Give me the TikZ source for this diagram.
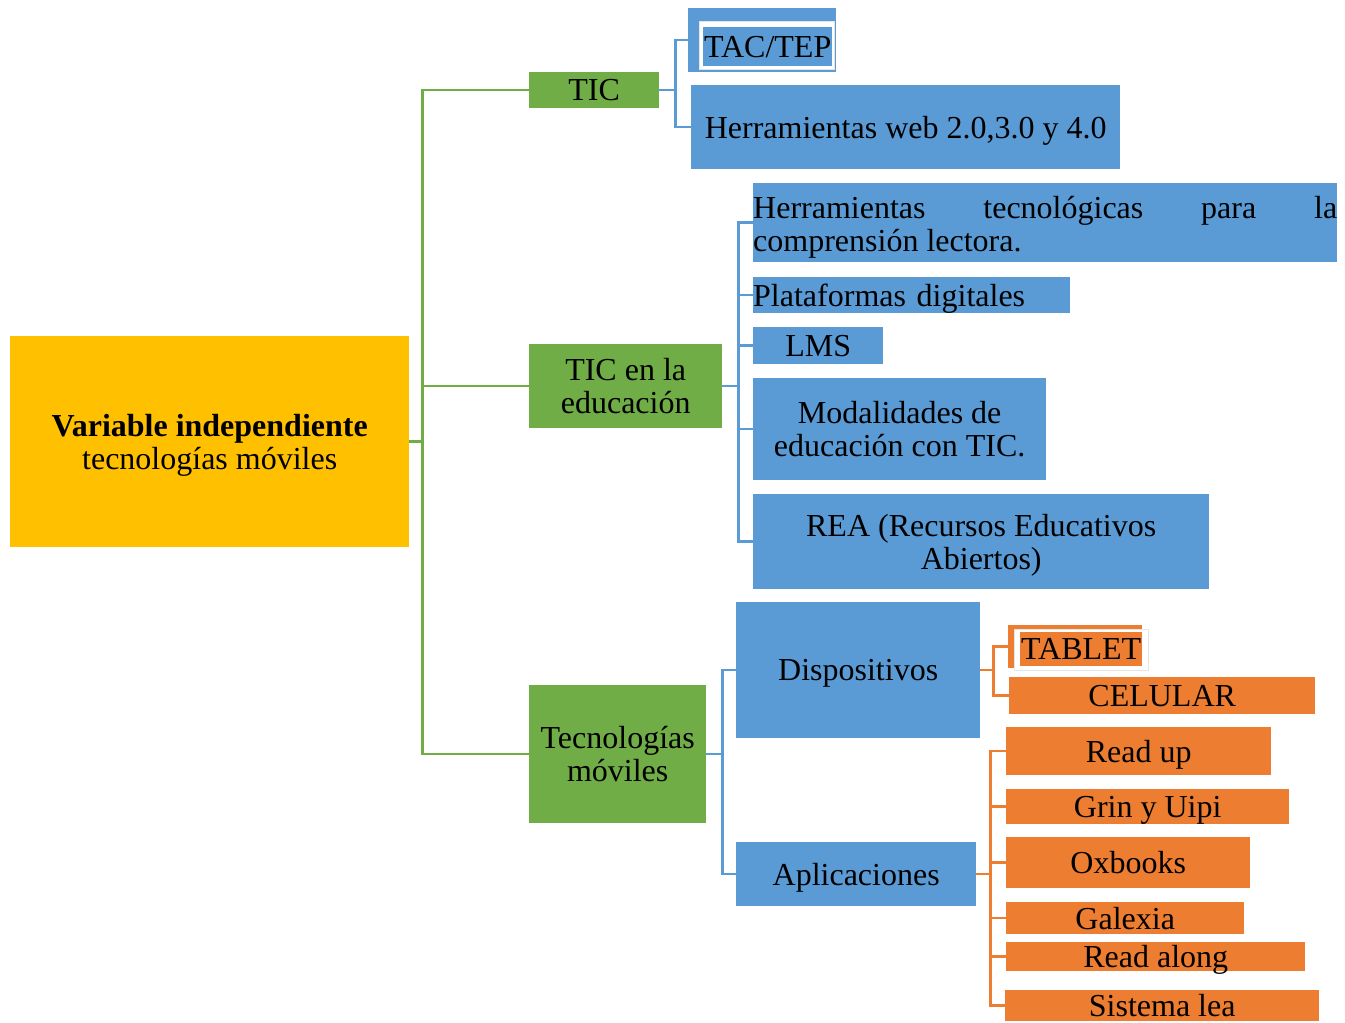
\documentclass[tikz,border=0pt]{standalone}
\usepackage{fontspec}
\setmainfont{Liberation Serif}
\usepackage{xcolor}
\usetikzlibrary{shapes,positioning}
\definecolor{grn}{HTML}{70AD47}
\definecolor{blu}{HTML}{5B9BD5}
\definecolor{org}{HTML}{ED7D31}
\definecolor{yel}{HTML}{FFC000}
\begin{document}
\begin{tikzpicture}[x=1pt,y=-1pt,
    every node/.style={anchor=north west,inner sep=0pt,align=center,text depth=0pt,
      font=\fontsize{32}{33}\selectfont},
    gbox/.style={fill=grn},
    bbox/.style={fill=blu},
    obox/.style={fill=org},
    wframe/.style={fill=white,draw=black!10,line width=1pt},
    gline/.style={draw=grn,line width=2.5pt},
    bline/.style={draw=blu,line width=2.5pt},
    oline/.style={draw=org,line width=2.5pt}]
  \useasboundingbox (0,0) rectangle (1345,1023);
  % raiz
  \node[fill=yel,minimum width=399pt,minimum height=211pt] (var) at (10,336)
    {\textbf{Variable independiente}\\tecnologías móviles};
  % nivel 1
  \node[gbox,minimum width=130pt,minimum height=36pt] (tic) at (529,72) {TIC};
  \node[gbox,minimum width=193pt,minimum height=84pt] (ticedu) at (529,344)
    {TIC en la\\educación};
  \node[gbox,minimum width=177pt,minimum height=138pt] (tecmov) at (529,685)
    {Tecnologías\\móviles};
  % TIC
  \node[bbox,minimum width=148pt,minimum height=64pt] (tac) at (688,8) {};
  \node[wframe,minimum width=135pt,minimum height=48pt] (tacf) at (699,21) {};
  \node[bbox,minimum width=129pt,minimum height=39pt] (tact) at (703,27) {TAC/TEP};
  \node[bbox,minimum width=429pt,minimum height=84pt] (web) at (691,85)
    {Herramientas web 2.0,3.0 y 4.0};
  % TIC en la educacion
  \node[bbox,text width=584pt,minimum height=79pt,align=justify,text depth=30pt] (herr) at (753,183)
    {Herramientas tecnológicas para la\linebreak comprensión lectora.};
  \node[bbox,text width=317pt,minimum height=36pt,align=left] (plat) at (753,277)
    {Plataformas digitales};
  \node[bbox,minimum width=130pt,minimum height=37pt] (lms) at (753,327) {LMS};
  \node[bbox,minimum width=293pt,minimum height=102pt] (mod) at (753,378)
    {Modalidades de\\educación con TIC.};
  \node[bbox,minimum width=456pt,minimum height=95pt] (rea) at (753,494)
    {REA (Recursos Educativos\\Abiertos)};
  % Tecnologias moviles
  \node[bbox,minimum width=244pt,minimum height=136pt] (disp) at (736,602) {Dispositivos};
  \node[bbox,minimum width=240pt,minimum height=64pt] (apl) at (736,842) {Aplicaciones};
  \node[obox,minimum width=134pt,minimum height=43pt] (tab) at (1008,625) {};
  \node[wframe,minimum width=134pt,minimum height=41pt] (tabf) at (1014,629) {};
  \node[obox,minimum width=122pt,minimum height=34pt] (tabt) at (1020,632) {TABLET};
  \node[obox,minimum width=306pt,minimum height=37pt] (cel) at (1009,677) {CELULAR};
  \node[obox,minimum width=265pt,minimum height=48pt] (rup) at (1006,727) {Read up};
  \node[obox,minimum width=283pt,minimum height=35pt] (grin) at (1006,789) {Grin y Uipi};
  \node[obox,minimum width=244pt,minimum height=51pt] (oxb) at (1006,837) {Oxbooks};
  \node[obox,minimum width=238pt,minimum height=32pt] (gal) at (1006,902) {Galexia};
  \node[obox,minimum width=299pt,minimum height=29pt] (ral) at (1006,942) {Read along};
  \node[obox,minimum width=314pt,minimum height=31pt] (lea) at (1005,990) {Sistema lea};
  % conectores
  \draw[gline] (var.east) -- ++(13,0) coordinate (gj);
  \foreach \n in {tic,ticedu,tecmov} \draw[gline] (gj) |- (\n.west);
  \draw[bline] (tic.east) -- ++(16,0) coordinate (tj);
  \foreach \n in {tac,web} \draw[bline] (tj) |- (\n.west);
  \draw[bline] (ticedu.east) -- ++(16,0) coordinate (ej);
  \foreach \n in {herr,plat,lms,mod,rea} \draw[bline] (ej) |- (\n.west);
  \draw[bline] (tecmov.east) -- ++(16,0) coordinate (mj);
  \foreach \n in {disp,apl} \draw[bline] (mj) |- (\n.west);
  \draw[oline] (disp.east) -- ++(13,0) coordinate (dj);
  \foreach \n in {tab,cel} \draw[oline] (dj) |- (\n.west);
  \draw[oline] (apl.east) -- ++(14,0) coordinate (aj);
  \foreach \n in {rup,grin,oxb,gal,ral,lea} \draw[oline] (aj) |- (\n.west);
\end{tikzpicture}
\end{document}
